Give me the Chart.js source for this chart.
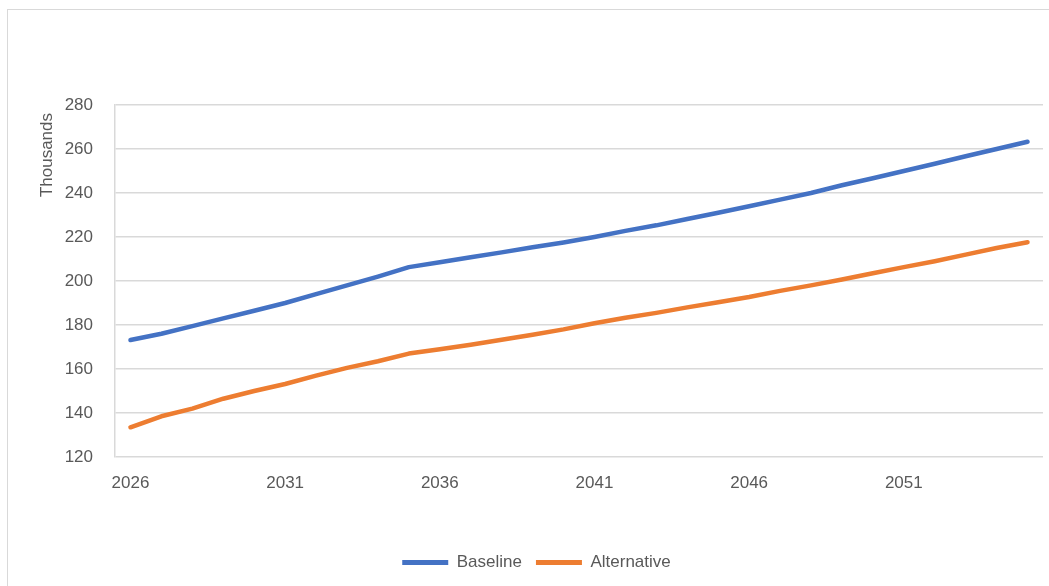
<!DOCTYPE html>
<html>
<head>
<meta charset="utf-8">
<script src="https://cdn.jsdelivr.net/npm/chart.js@4.4.1/dist/chart.umd.min.js"></script>
<style>
  body { margin: 0; background: #fff; overflow: hidden; }
  #wrap { position: relative; width: 1049px; height: 586px; }
  #frame { position: absolute; left: 7px; top: 9px; width: 1100px; height: 640px;
           border-left: 1px solid #d9d9d9; border-top: 1px solid #d9d9d9; }
  canvas { position: absolute; left: 0; top: 0; }
</style>
</head>
<body>
<div id="wrap">
  <div id="frame"></div>
  <canvas id="lineChart" width="1049" height="586"></canvas>
</div>
<script>
// years on the category axis
var years = ["2026","2027","2028","2029","2030","2031","2032","2033","2034","2035",
             "2036","2037","2038","2039","2040","2041","2042","2043","2044","2045",
             "2046","2047","2048","2049","2050","2051","2052","2053","2054","2055"];

// values in thousands
var baseline = [173.2, 176, 179.5, 183, 186.5, 190, 194, 198, 202, 206.3,
                208.5, 210.8, 213, 215.3, 217.5, 220, 222.8, 225.3, 228.2, 231,
                234, 237, 240, 243.5, 246.7, 250, 253.3, 256.7, 260, 263.3];
var alternative = [133.5, 138.5, 142, 146.5, 150, 153.2, 157, 160.5, 163.5, 167,
                   169, 171, 173.3, 175.6, 178, 180.8, 183.3, 185.5, 188, 190.3,
                   192.7, 195.5, 198, 200.7, 203.5, 206.3, 209, 212, 215, 217.6];

var yTicks = [120, 140, 160, 180, 200, 220, 240, 260, 280];
var yTitle = 'Thousands';

var txt = '#595959';
var font = { family: "'Liberation Sans', Arial, sans-serif", size: 17 };

// Excel puts the display-units label near the top of the value axis
var unitsLabel = {
    id: 'unitsLabel',
    afterDraw: function (c) {
        var g = c.ctx, y = c.scales.y;
        g.save();
        g.translate(47.5, y.top + 8);
        g.rotate(-Math.PI / 2);
        g.fillStyle = txt;
        g.font = font.size + 'px ' + font.family;
        g.textAlign = 'right';
        g.textBaseline = 'middle';
        g.fillText(yTitle, 0, 0);
        g.restore();
    }
};

var ctx = document.getElementById("lineChart").getContext('2d');
var chart = new Chart(ctx, {
    type: 'line',
    data: {
        labels: years,
        datasets: [{
                label: "Baseline",
                data: baseline,
                borderColor: '#4472C4',
                backgroundColor: '#4472C4',
                borderWidth: 4.5,
                borderCapStyle: 'round',
                borderJoinStyle: 'round',
                pointRadius: 0,
                tension: 0
            }, {
                label: "Alternative",
                data: alternative,
                borderColor: '#ED7D31',
                backgroundColor: '#ED7D31',
                borderWidth: 4.5,
                borderCapStyle: 'round',
                borderJoinStyle: 'round',
                pointRadius: 0,
                tension: 0
            }
        ]
    },
    options: {
        responsive: false,
        animation: false,
        layout: { padding: { left: 30, top: 105, right: 6, bottom: 5 } },
        scales: {
            x: {
                offset: true,
                grid: { display: false, drawTicks: false },
                border: { display: false },
                ticks: {
                    color: txt, font: font, padding: 16,
                    autoSkip: false, maxRotation: 0,
                    callback: function (v, i) { return i % 5 === 0 ? years[i] : ''; }
                },
                afterFit: function (s) { s.height = 83; }
            },
            y: {
                min: yTicks[0],
                max: yTicks[yTicks.length - 1],
                afterBuildTicks: function (s) { s.ticks = yTicks.map(function (v) { return { value: v }; }); },
                grid: { color: '#d9d9d9', lineWidth: 1.5, drawTicks: false },
                border: { display: true, color: '#d9d9d9', width: 1.5 },
                ticks: { color: txt, font: font, padding: 22 },
                afterFit: function (s) { s.width = 115 - 30; }
            }
        },
        plugins: {
            tooltip: { enabled: false },
            legend: {
                position: 'bottom',
                labels: {
                    color: txt, font: font, boxWidth: 46, boxHeight: 5, padding: 14,
                    generateLabels: function (c) {
                        return Chart.defaults.plugins.legend.labels.generateLabels(c).map(function (l) {
                            l.lineWidth = 0;
                            return l;
                        });
                    }
                }
            }
        }
    },
    plugins: [unitsLabel]
});
</script>
</body>
</html>
